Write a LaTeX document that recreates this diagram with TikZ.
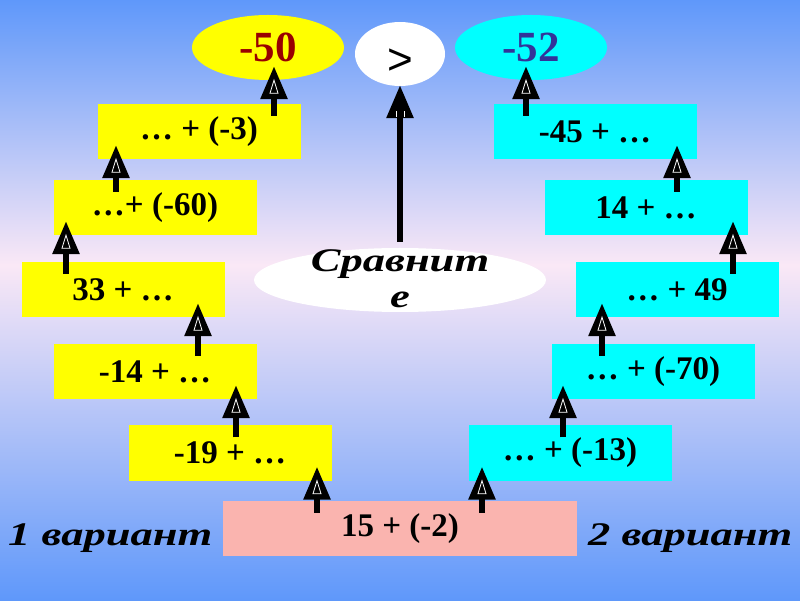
\documentclass[tikz,border=0pt]{standalone}
\usepackage{fontspec}
\setmainfont{Liberation Serif}
\setsansfont{Liberation Sans}
\newfontfamily\cursivefont{Liberation Serif}[FakeStretch=1.35]
\usetikzlibrary{arrows.meta}
\usetikzlibrary{shapes}
\usetikzlibrary{calc}
\usetikzlibrary{positioning}

\definecolor{bgblue}{RGB}{95,152,250}
\definecolor{bgpink}{RGB}{250,232,246}
\definecolor{lemon}{RGB}{255,255,0}
\definecolor{aqua}{RGB}{0,255,255}
\definecolor{rose}{RGB}{250,180,175}
\definecolor{darkred}{RGB}{153,0,0}
\definecolor{darkblue}{RGB}{51,51,153}

\tikzset{
  sum/.style={rectangle, minimum width=203pt, minimum height=55pt, inner sep=0pt,
    font=\fontsize{33}{33}\selectfont\bfseries},
  lsum/.style={sum, fill=lemon},
  rsum/.style={sum, fill=aqua},
  res/.style={ellipse, minimum width=152pt, minimum height=65pt, inner sep=0pt,
    font=\fontsize{43}{43}\selectfont\bfseries},
  up/.style={line width=6pt, -{Triangle[width=26pt,length=33pt]}},
  hollow/.style={white, line width=0.8pt},
  variant/.style={anchor=base west, inner sep=0pt, font=\fontsize{33}{33}\selectfont\cursivefont\bfseries\itshape}
}

\begin{document}
\begin{tikzpicture}[x=1pt, y=1pt]
%background
\shade[top color=bgblue, bottom color=bgpink] (0,335) rectangle (800,600);
\shade[top color=bgpink, bottom color=bgblue] (0,0) rectangle (800,335);
\useasboundingbox (0,0) rectangle (800,600);

%results
\node[res, fill=lemon, text=darkred] (e50) at (268,552.5) {-50};
\node[ellipse, fill=white, minimum width=90pt, minimum height=64pt, inner sep=0pt,
  text height=42pt, text depth=0pt, font=\fontsize{44}{44}\selectfont\sffamily] (gt) at (400,546) {>};
\node[res, fill=aqua, text=darkblue] (e52) at (531,552.5) {-52};

\node[ellipse, fill=white, minimum width=292pt, minimum height=64pt] (cmp) at (400,320) {};
\node[align=center, font=\fontsize{33}{36}\selectfont\cursivefont\bfseries\itshape] (cmptext) at (400,321) {Сравнит\\е};

%variant 1
\node[lsum] (L1) at (199,468.5) {… + (-3)};
\node[lsum] (L2) at (155,392.5) {…+ (-60)};
\node[lsum] (L3) at (123,310.5) {33 + …};
\node[lsum] (L4) at (155,228.5) {-14 + …};
\node[lsum] (L5) at (230,147) {-19 + …};

%variant 2
\node[rsum] (R1) at (595,468.5) {-45 + …};
\node[rsum] (R2) at (646,392.5) {14 + …};
\node[rsum] (R3) at (677,310.5) {… + 49};
\node[rsum] (R4) at (653,228.5) {… + (-70)};
\node[rsum] (R5) at (570,147) {… + (-13)};

\node[sum, fill=rose, minimum width=354pt] (start) at (400,71.5) {15 + (-2)};

\node[variant] (v1) at (8,55) {1 вариант};
\node[variant] (v2) at (588,55) {2 вариант};

%arrows
\foreach \a/\b/\p/\q in {start/L5/-83/87, start/R5/82/-88, L5/L4/6/81, L4/L3/43/75,
    L3/L2/-57/-89, L2/L1/-39/-83, R5/R4/-7/-90, R4/R3/-51/-75, R3/R2/56/87, R2/R1/31/82,
    L1/e50/75/6, R1/e52/-69/-5} {
  \draw[up] ($(\a.north)+(\p,-12)$) -- ($(\b.south)+(\q,14)$) coordinate (t);
  \draw[hollow] ($(t)+(0,-14)$) -- ++(-4,-13) -- ++(8,0) -- cycle;
}
\draw[up] ($(cmp.north)+(0,6)$) -- ($(gt.south)+(0,1)$) coordinate (t);
\draw[hollow] ($(t)+(-4,-26)$) -- ++(0,-6) ($(t)+(4,-26)$) -- ++(0,-6);
\end{tikzpicture}
\end{document}
